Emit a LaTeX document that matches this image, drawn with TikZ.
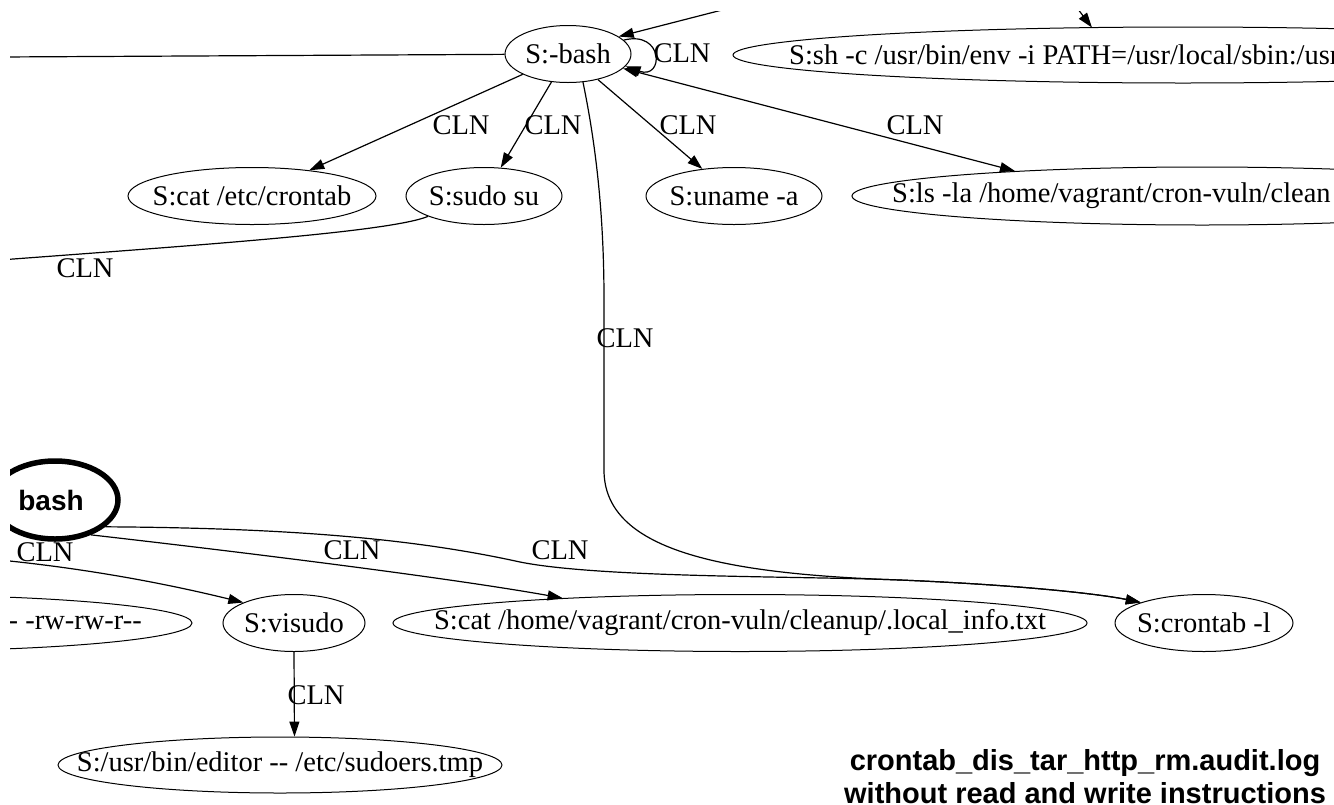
\documentclass[tikz,border=0pt]{standalone}
\usepackage{fontspec}
\newfontfamily\gvserif{Liberation Serif}
\newfontfamily\gvsans{Liberation Sans}
\usetikzlibrary{shapes.geometric,arrows.meta,calc}
\begin{document}
\begin{tikzpicture}[x=1pt,y=-1pt,
  ell/.style={draw, ellipse, inner sep=0pt, line width=1pt},
  lab/.style={inner sep=0pt, font=\gvserif\fontsize{28.5}{30}\selectfont},
  bfont/.style={inner sep=0pt, font=\gvsans\bfseries\fontsize{28}{30}\selectfont},
  title/.style={inner sep=0pt, font=\gvsans\bfseries\fontsize{29}{33}\selectfont},
  conn/.style={line width=1.2pt},
  tip/.tip={Triangle[length=15pt,width=10pt]},
  arr/.style={conn, -tip},
]
\useasboundingbox (0,0) rectangle (1334,804);
\clip (10,11) rectangle (1334,804);

% nodes
\node[ell, minimum width=126, minimum height=57, label={[lab]center:{S:-bash}}] (bash) at (568,54) {};
\node[ell, minimum width=900, minimum height=56] (sh) at (1183,55) {};
\node[lab, anchor=west] (shtext) at (789,55) {S:sh -c /usr/bin/env -i PATH=/usr/local/sbin:/usr};
\node[ell, minimum width=248, minimum height=57, label={[lab]center:{S:cat /etc/crontab}}] (cat) at (252,196) {};
\node[ell, minimum width=156, minimum height=57, label={[lab]center:{S:sudo su}}] (sudo) at (484,196) {};
\node[ell, minimum width=176, minimum height=57, label={[lab]center:{S:uname -a}}] (uname) at (734,196) {};
\node[ell, minimum width=700, minimum height=58] (ls) at (1202,196) {};
\node[lab, anchor=west] (lstext) at (892,196) {S:ls -la /home/vagrant/cron-vuln/clean};

\node[ell, line width=5.5pt, minimum width=126, minimum height=78] (bbash) at (55,500) {};
\node[bfont] (bbashtext) at (51,500) {bash};
\node[ell, minimum width=600, minimum height=56] (rw) at (-108,623) {};
\node[lab, anchor=east] (rwtext) at (142,623) {-- -rw-rw-r--};
\node[ell, minimum width=142, minimum height=57, label={[lab]center:{S:visudo}}] (visudo) at (294,623) {};
\node[ell, minimum width=694, minimum height=57, label={[lab]center:{S:cat /home/vagrant/cron-vuln/cleanup/.local\_info.txt}}] (info) at (740,623) {};
\node[ell, minimum width=178, minimum height=57, label={[lab]center:{S:crontab -l}}] (crontab) at (1204,623) {};
\node[ell, minimum width=444, minimum height=56, label={[lab]center:{S:/usr/bin/editor -- /etc/sudoers.tmp}}] (editor) at (280,765) {};

\node[title, anchor=base] (title1) at (1085,770) {crontab\_dis\_tar\_http\_rm.audit.log};
\node[title, anchor=base] (title2) at (1085,803) {without read and write instructions};

% free ends
\coordinate (inA) at (761,0);
\coordinate (inB) at (1071,0);
\coordinate (inC) at (0,57);
\coordinate (inD) at (0,260);
\coordinate (inE) at (0,560);

% edges
\draw[arr] (inA) -- (bash.19);
\draw[arr] (inB) -- ($(sh.center)+(-91,-27.4)$);
\draw[conn] (inC) -- (bash);
\draw[arr] (bash.14) .. controls (664,30) and (664,80) .. (bash.-12);
\draw[arr] (bash) -- (cat);
\draw[arr] (bash) -- (sudo);
\draw[arr] (bash) -- (uname);
\draw[conn, tip-tip] (bash) -- ($(ls.center)+(-187,-25)$);
\draw[conn] (sudo.200) .. controls (390,232) and (200,245) .. (inD);
\draw[arr] (bash.-62) .. controls (597,150) and (604,220) .. (604,300) -- (604,470) .. controls (604,550) and (720,574) .. (900,580) .. controls (1020,585) and (1100,594) .. (crontab.162);
\draw[arr] (bbash.-28) .. controls (300,528) and (420,540) .. (520,562) .. controls (600,578) and (800,576) .. (900,580) .. controls (1020,585) and (1100,594) .. (crontab.162);
\draw[arr] (bbash.-44) .. controls (250,553) and (450,578) .. (info.172);
\draw[arr] (inE) .. controls (100,570) and (180,587) .. (visudo.158);
\draw[arr] (visudo.south) -- (editor.63.4);

% edge labels
\node[lab] (l0) at (682,53) {CLN};
\node[lab] (l1) at (461,125) {CLN};
\node[lab] (l2) at (553,125) {CLN};
\node[lab] (l3) at (688,125) {CLN};
\node[lab] (l4) at (915,125) {CLN};
\node[lab] (l5) at (625,338) {CLN};
\node[lab] (l6) at (85,268) {CLN};
\node[lab] (l7) at (45,552) {CLN};
\node[lab] (l8) at (352,550) {CLN};
\node[lab] (l9) at (560,550) {CLN};
\node[lab] (l10) at (316,695) {CLN};
\end{tikzpicture}
\end{document}
